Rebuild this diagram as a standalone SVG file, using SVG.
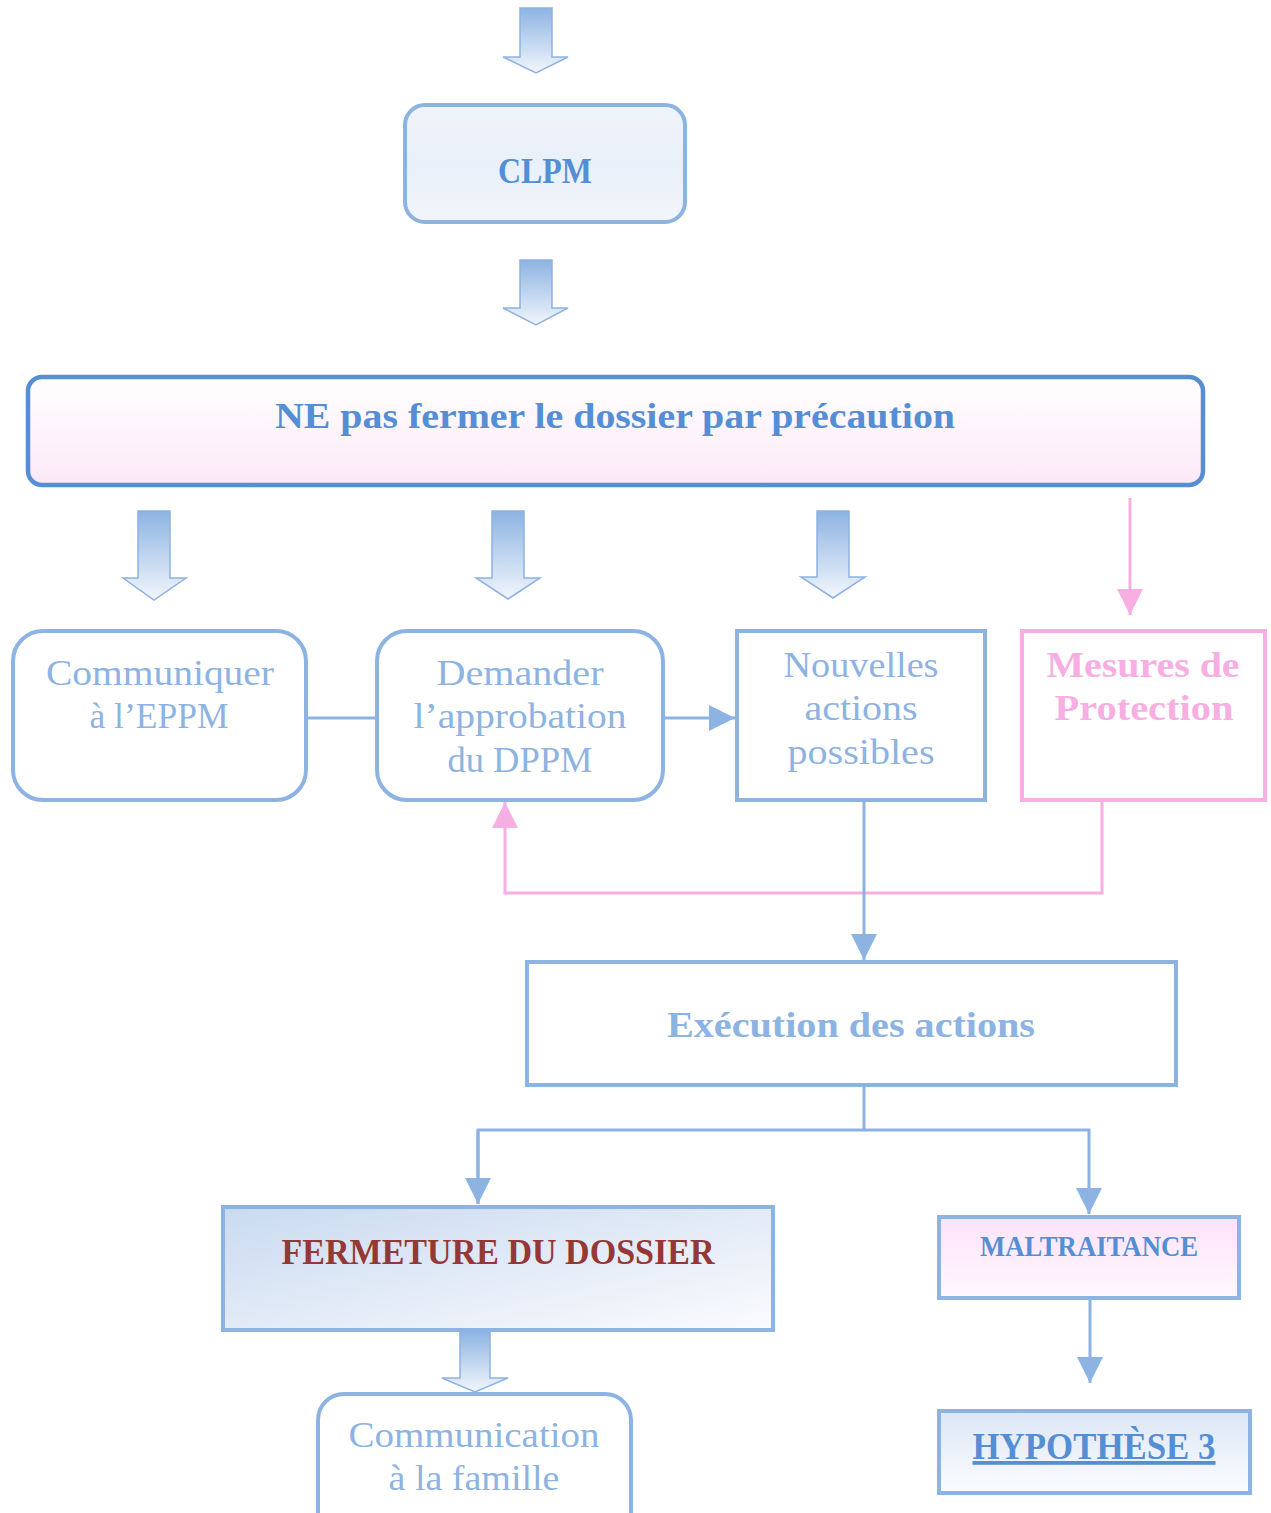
<svg xmlns="http://www.w3.org/2000/svg" width="1271" height="1513" viewBox="0 0 1271 1513">
<style>
text{font-family:"Liberation Serif","DejaVu Serif",serif;text-anchor:middle}
.lt{fill:#8db3e2;font-size:36px}
.ltb{fill:#8db3e2;font-size:36px;font-weight:bold}
.dk{fill:#558ed5;font-weight:bold}
.pk{fill:#f7aee3;font-size:36px;font-weight:bold}
.red{fill:#953735;font-size:36px;font-weight:bold}
.box{fill:#ffffff;stroke:#8db3e2;stroke-width:4}
.blk{fill:url(#gArrow);stroke:#8db3e2;stroke-width:1.5}
.cb{fill:none;stroke:#8db3e2;stroke-width:3}
.cp{fill:none;stroke:#f7aee3;stroke-width:3}
</style>
<defs>
<linearGradient id="gArrow" x1="0" y1="0" x2="0" y2="1">
<stop offset="0" stop-color="#8db3e2"/><stop offset="1" stop-color="#f2f6fc"/>
</linearGradient>
<linearGradient id="gClpm" x1="0" y1="0" x2="0" y2="1">
<stop offset="0" stop-color="#f0f4fa"/><stop offset="0.5" stop-color="#e9f0f9"/><stop offset="1" stop-color="#f1f5fb"/>
</linearGradient>
<linearGradient id="gBig" x1="0" y1="0" x2="0" y2="1">
<stop offset="0" stop-color="#ffffff"/><stop offset="1" stop-color="#fbe9f6"/>
</linearGradient>
<linearGradient id="gFerm" x1="0" y1="0" x2="1" y2="1">
<stop offset="0" stop-color="#c9daf0"/><stop offset="1" stop-color="#fbfbfd"/>
</linearGradient>
<linearGradient id="gMal" x1="0" y1="0" x2="0" y2="1">
<stop offset="0" stop-color="#fee2fb"/><stop offset="1" stop-color="#fff8fe"/>
</linearGradient>
<linearGradient id="gHyp" x1="0" y1="0" x2="0" y2="1">
<stop offset="0" stop-color="#dce6f5"/><stop offset="1" stop-color="#fcfdff"/>
</linearGradient>
<marker id="mb" markerUnits="userSpaceOnUse" markerWidth="26" markerHeight="26" refX="26" refY="13" orient="auto">
<path d="M0,0 L26,13 L0,26 Z" fill="#8db3e2"/>
</marker>
<marker id="mp" markerUnits="userSpaceOnUse" markerWidth="26" markerHeight="26" refX="26" refY="13" orient="auto">
<path d="M0,0 L26,13 L0,26 Z" fill="#f7aee3"/>
</marker>
</defs>

<g id="connectors">
<path class="blk" d="M520,8 H552 V57 H568 L536,73 L503,57 H520 Z"/>
<path class="blk" d="M520,260 H552 V308 H568 L536,325 L503,308 H520 Z"/>
<path class="blk" d="M138,511 H170 V578 H186 L154,600 L123,578 H138 Z"/>
<path class="blk" d="M492,511 H524 V578 H540 L508,599 L476,578 H492 Z"/>
<path class="blk" d="M817,511 H849 V577 H865 L833,598 L801,577 H817 Z"/>
<path class="cp" d="M1130,498 V615" marker-end="url(#mp)"/>
<path class="cb" d="M308,718 H375"/>
<path class="cb" d="M665,718 H735" marker-end="url(#mb)"/>
<path class="cp" d="M1102,801 V893 H505 V802" marker-end="url(#mp)"/>
<path class="cb" d="M864,801 V960" marker-end="url(#mb)"/>
<path class="cb" d="M864,1086 V1130"/>
<path class="cb" d="M478,1204 V1130 H1089 V1214" marker-end="url(#mb)"/>
<path class="cb" d="M478,1130 V1204" marker-end="url(#mb)"/>
<path class="blk" d="M460,1331 H490 V1378 H508 L475,1392 L442,1378 H460 Z"/>
<path class="cb" d="M1090,1299 V1383" marker-end="url(#mb)"/>
</g>

<g id="clpm">
<rect x="405" y="105" width="280" height="117" rx="20" fill="url(#gClpm)" stroke="#8db3e2" stroke-width="4"/>
<text class="dk" x="545" y="183" font-size="35" textLength="94" lengthAdjust="spacingAndGlyphs">CLPM</text>
</g>

<g id="ne-pas-fermer">
<rect x="28" y="377" width="1175" height="108" rx="14" fill="url(#gBig)" stroke="#558ed5" stroke-width="4.5"/>
<text class="dk" x="615" y="428" font-size="35" textLength="680" lengthAdjust="spacingAndGlyphs">NE pas fermer le dossier par précaution</text>
</g>

<g id="communiquer">
<rect class="box" x="13" y="631" width="293" height="169" rx="30"/>
<text class="lt" x="160" y="685" textLength="228" lengthAdjust="spacingAndGlyphs">Communiquer</text>
<text class="lt" x="159" y="728" textLength="139" lengthAdjust="spacingAndGlyphs">à l’EPPM</text>
</g>

<g id="demander">
<rect class="box" x="377" y="631" width="286" height="169" rx="30"/>
<text class="lt" x="520" y="685" textLength="167" lengthAdjust="spacingAndGlyphs">Demander</text>
<text class="lt" x="520" y="728" textLength="213" lengthAdjust="spacingAndGlyphs">l’approbation</text>
<text class="lt" x="520" y="772" textLength="145" lengthAdjust="spacingAndGlyphs">du DPPM</text>
</g>

<g id="nouvelles">
<rect class="box" x="737" y="631" width="248" height="169"/>
<text class="lt" x="861" y="677" textLength="155" lengthAdjust="spacingAndGlyphs">Nouvelles</text>
<text class="lt" x="861" y="720" textLength="113" lengthAdjust="spacingAndGlyphs">actions</text>
<text class="lt" x="861" y="764" textLength="147" lengthAdjust="spacingAndGlyphs">possibles</text>
</g>

<g id="mesures">
<rect x="1022" y="631" width="243" height="169" fill="#ffffff" stroke="#f7aee3" stroke-width="4"/>
<text class="pk" x="1143" y="677" textLength="193" lengthAdjust="spacingAndGlyphs">Mesures de</text>
<text class="pk" x="1144" y="720" textLength="179" lengthAdjust="spacingAndGlyphs">Protection</text>
</g>

<g id="execution">
<rect class="box" x="527" y="962" width="649" height="123"/>
<text class="ltb" x="851" y="1037" textLength="368" lengthAdjust="spacingAndGlyphs">Exécution des actions</text>
</g>

<g id="fermeture">
<rect x="223" y="1207" width="550" height="123" fill="url(#gFerm)" stroke="#8db3e2" stroke-width="4"/>
<text class="red" x="498" y="1264" textLength="433" lengthAdjust="spacingAndGlyphs">FERMETURE DU DOSSIER</text>
</g>

<g id="communication">
<rect class="box" x="318" y="1394" width="313" height="150" rx="26"/>
<text class="lt" x="474" y="1447" textLength="251" lengthAdjust="spacingAndGlyphs">Communication</text>
<text class="lt" x="474" y="1490" textLength="171" lengthAdjust="spacingAndGlyphs">à la famille</text>
</g>

<g id="maltraitance">
<rect x="939" y="1217" width="300" height="81" fill="url(#gMal)" stroke="#8db3e2" stroke-width="4"/>
<text class="dk" x="1089" y="1256" font-size="30" textLength="218" lengthAdjust="spacingAndGlyphs">MALTRAITANCE</text>
</g>

<g id="hypothese">
<rect x="939" y="1411" width="311" height="82" fill="url(#gHyp)" stroke="#8db3e2" stroke-width="4"/>
<text class="dk" x="1094" y="1459" font-size="38" text-decoration="underline" textLength="243" lengthAdjust="spacingAndGlyphs">HYPOTHÈSE 3</text>
</g>
</svg>
